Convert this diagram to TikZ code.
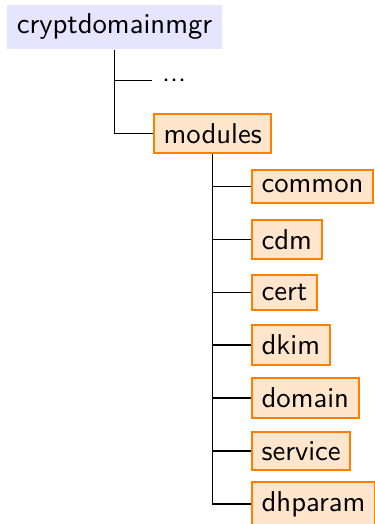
\documentclass[tikz,border=0pt]{standalone}
\begin{document}
\begin{tikzpicture}[x=0.3484pt, y=-0.3484pt, font=\sffamily,
  rootbox/.style={fill=blue!10, inner sep=3.33pt},
  modbox/.style={draw=orange, fill=orange!20, line width=0.7pt, anchor=west}]
  \useasboundingbox (0,0) rectangle (375,524);
  \node[rootbox] (root) at (114.5,27) {cryptdomainmgr};
  \node[anchor=west] (dots) at (152,80.5) {...};
  \node[modbox] (modules) at (153,133.5) {modules};
  \node[modbox] (common) at (251,186.5) {common};
  \node[modbox] (cdm) at (251,239.5) {cdm};
  \node[modbox] (cert) at (251,292.5) {cert};
  \node[modbox] (dkim) at (251,345) {dkim};
  \node[modbox] (domain) at (251,398) {domain};
  \node[modbox] (service) at (251,451) {service};
  \node[modbox] (dhparam) at (251,504) {dhparam};
  \draw (root.south) |- (dots.west);
  \draw (root.south) |- (modules.west);
  \draw (modules.south) |- (common.west);
  \draw (modules.south) |- (cdm.west);
  \draw (modules.south) |- (cert.west);
  \draw (modules.south) |- (dkim.west);
  \draw (modules.south) |- (domain.west);
  \draw (modules.south) |- (service.west);
  \draw (modules.south) |- (dhparam.west);
\end{tikzpicture}
\end{document}
